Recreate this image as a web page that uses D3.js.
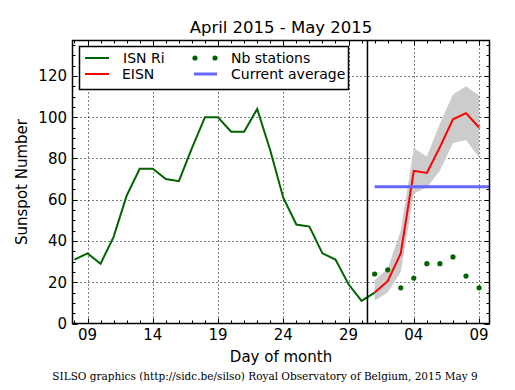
<!DOCTYPE html>
<html><head><meta charset="utf-8">
<script src="https://cdn.jsdelivr.net/npm/d3@7"></script>
<style>body{margin:0;background:#fff}svg{display:block}</style>
</head><body>
<script>
// Day index: April d -> d, May d -> 30 + d
const isnDays = [8,9,10,11,12,13,14,15,16,17,18,19,20,21,22,23,24,25,26,27,28,29,30,31];
const isnValues = [31,34,29,42,62,75,75,70,69,85,100,100,93,93,104,84,61,48,47,34,31,19,11,15];
const eisnDays = [31,32,33,34,35,36,37,38,39];
const eisnValues = [15,20.5,34,74,73,85.5,99,102,95];
const eisnUpper = [21,26.5,45,85,81,97,111,115,110.5];
const eisnLower = [11,15,25,63,66,74,87.5,89,80.5];
const nbStations = [24,26,17.3,22,29,29,32.3,23,17.3];
const currentAverage = 66.3;
const avgStartDay = 31;
const xTickDays = [9,14,19,24,29,34,39];
const xTickLabels = ["09","14","19","24","29","04","09"];
const yTicks = [0,20,40,60,80,100,120];
const dividerDay = 30.45;

const W = 515, H = 390;
const L = 72.5, R = 489.5, T = 40.5, B = 323.5;
const svg = d3.select("body").append("svg").attr("width", W).attr("height", H)
  .style("font-family", "DejaVu Sans, sans-serif");

const x = d3.scaleLinear().domain([7.85, 39.8]).range([L, R]);
const y = d3.scaleLinear().domain([0, 137.2]).range([B, T]);

// grid
const g = svg.append("g");
g.selectAll(".gx").data(xTickDays).join("line")
  .attr("x1", d => Math.round(x(d)) + 0.5).attr("x2", d => Math.round(x(d)) + 0.5)
  .attr("y1", T).attr("y2", B)
  .attr("stroke", "#000").attr("stroke-width", 1).attr("stroke-dasharray", "1,3");
g.selectAll(".gy").data(yTicks.slice(1)).join("line")
  .attr("y1", d => Math.round(y(d)) + 0.5).attr("y2", d => Math.round(y(d)) + 0.5)
  .attr("x1", L).attr("x2", R)
  .attr("stroke", "#000").attr("stroke-width", 1).attr("stroke-dasharray", "1,3");

// band
const area = d3.area().x((d, i) => x(eisnDays[i])).y0((d, i) => y(eisnLower[i])).y1((d, i) => y(eisnUpper[i]));
svg.append("path").datum(eisnDays).attr("d", area).attr("fill", "#cccccc");

// ISN line
const line = d3.line().x(d => x(d[0])).y(d => y(d[1]));
svg.append("path").datum(isnDays.map((d, i) => [d, isnValues[i]])).attr("d", line)
  .attr("fill", "none").attr("stroke", "#006400").attr("stroke-width", 2);

// EISN
svg.append("path").datum(eisnDays.map((d, i) => [d, eisnValues[i]])).attr("d", line)
  .attr("fill", "none").attr("stroke", "#ff0000").attr("stroke-width", 2);

// current average
svg.append("line").attr("x1", x(avgStartDay)).attr("x2", R).attr("y1", y(currentAverage)).attr("y2", y(currentAverage))
  .attr("stroke", "#6666ff").attr("stroke-width", 3);

// stations
svg.selectAll(".dot").data(eisnDays).join("circle")
  .attr("cx", d => x(d)).attr("cy", (d, i) => y(nbStations[i])).attr("r", 2.6).attr("fill", "#006400");

// divider
svg.append("line").attr("x1", x(dividerDay)).attr("x2", x(dividerDay)).attr("y1", T).attr("y2", B)
  .attr("stroke", "#000").attr("stroke-width", 1.5);

// frame
svg.append("rect").attr("x", L).attr("y", T).attr("width", R - L).attr("height", B - T)
  .attr("fill", "none").attr("stroke", "#000").attr("stroke-width", 1.5);

// ticks
const minorX = d3.range(8, 40);
const minorY = d3.range(5, 137, 5);
function tickX(days, len) {
  svg.selectAll(null).data(days).join("line").attr("x1", d => Math.round(x(d)) + 0.5).attr("x2", d => Math.round(x(d)) + 0.5)
    .attr("y1", B).attr("y2", B - len).attr("stroke", "#000");
  svg.selectAll(null).data(days).join("line").attr("x1", d => Math.round(x(d)) + 0.5).attr("x2", d => Math.round(x(d)) + 0.5)
    .attr("y1", T).attr("y2", T + len).attr("stroke", "#000");
}
function tickY(vals, len) {
  svg.selectAll(null).data(vals).join("line").attr("y1", d => Math.round(y(d)) + 0.5).attr("y2", d => Math.round(y(d)) + 0.5)
    .attr("x1", L).attr("x2", L + len).attr("stroke", "#000");
  svg.selectAll(null).data(vals).join("line").attr("y1", d => Math.round(y(d)) + 0.5).attr("y2", d => Math.round(y(d)) + 0.5)
    .attr("x1", R).attr("x2", R - len).attr("stroke", "#000");
}
tickX(minorX, 3); tickX(xTickDays, 5);
tickY(minorY, 3); tickY(yTicks, 5);

// tick labels
svg.selectAll(".xl").data(xTickDays).join("text").attr("x", d => x(d)).attr("y", 340)
  .attr("text-anchor", "middle").attr("font-size", 15).text((d, i) => xTickLabels[i]);
svg.selectAll(".yl").data(yTicks).join("text").attr("x", 67).attr("y", d => y(d) + 5.5)
  .attr("text-anchor", "end").attr("font-size", 15).text(d => d);

// titles
svg.append("text").attr("x", (L + R) / 2).attr("y", 33).attr("text-anchor", "middle").attr("font-size", 16.5)
  .text("April 2015 - May 2015");
svg.append("text").attr("x", (L + R) / 2).attr("y", 362).attr("text-anchor", "middle").attr("font-size", 15)
  .text("Day of month");
svg.append("text").attr("transform", "translate(27,182) rotate(-90)").attr("text-anchor", "middle").attr("font-size", 15)
  .text("Sunspot Number");
svg.append("text").attr("x", 265).attr("y", 380).attr("text-anchor", "middle").attr("font-size", 10.5)
  .attr("font-family", "DejaVu Serif, serif").text("SILSO graphics (http://sidc.be/silso) Royal Observatory of Belgium, 2015 May 9");

// legend
const lg = svg.append("g");
lg.append("rect").attr("x", 79.5).attr("y", 46.5).attr("width", 269).attr("height", 43)
  .attr("fill", "#fff").attr("stroke", "#000").attr("stroke-width", 1.5);
lg.append("line").attr("x1", 85).attr("x2", 109).attr("y1", 58).attr("y2", 58).attr("stroke", "#006400").attr("stroke-width", 2);
lg.append("line").attr("x1", 85).attr("x2", 109).attr("y1", 74).attr("y2", 74).attr("stroke", "#ff0000").attr("stroke-width", 2);
lg.append("circle").attr("cx", 195).attr("cy", 58).attr("r", 2.6).attr("fill", "#006400");
lg.append("circle").attr("cx", 215).attr("cy", 58).attr("r", 2.6).attr("fill", "#006400");
lg.append("line").attr("x1", 194).attr("x2", 217).attr("y1", 74).attr("y2", 74).attr("stroke", "#6666ff").attr("stroke-width", 3);
const lt = [["ISN Ri", 123, 63], ["EISN", 122, 79], ["Nb stations", 231, 63], ["Current average", 231, 79]];
lg.selectAll("text").data(lt).join("text").attr("x", d => d[1]).attr("y", d => d[2]).attr("font-size", 14).text(d => d[0]);
</script>
</body></html>
